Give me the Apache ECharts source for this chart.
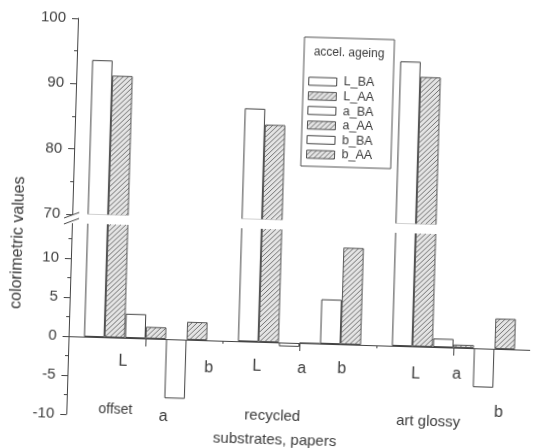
<!DOCTYPE html>
<html>
<head>
<meta charset="utf-8">
<script src="https://cdn.jsdelivr.net/npm/echarts@6/dist/echarts.min.js"></script>
<style>
  html, body { margin: 0; padding: 0; background: #fff; overflow: hidden; }
  #chart { width: 534px; height: 448px; transform: rotate(1.7deg); transform-origin: 267px 224px; }
</style>
</head>
<body>
<div id="chart"></div>
<script>
// Colorimetric values (L, a, b) before (BA) and after (AA) accelerated ageing
const substrates = ['offset', 'recycled', 'art glossy'];
const seriesNames = ['L_BA', 'L_AA', 'a_BA', 'a_AA', 'b_BA', 'b_AA'];
const L_BA = [93.7, 87.0, 94.9];
const L_AA = [91.4, 84.6, 92.6];
const a_BA = [3.1, -0.5, 1.1];
const a_AA = [1.5, 0.0, 0.4];
const b_BA = [-7.6, 5.7, -5.0];
const b_AA = [2.3, 12.4, 3.9];
const componentLabels = ['L', 'a', 'b'];

// broken value axis: upper and lower segments
const upperRange = [70, 100];
const upperStep = 10;
const lowerRange = [-10, 15];
const lowerStep = 5;

const values = [L_BA, L_AA, a_BA, a_AA, b_BA, b_AA];

const INK = '#444';
const TXT = '#3c3c3c';
const FONT = '"Liberation Sans", Arial, sans-serif';

function hatchCanvas() {
  const c = document.createElement('canvas');
  c.width = 5; c.height = 5;
  const g = c.getContext('2d');
  g.fillStyle = '#e4e4e4';
  g.fillRect(0, 0, 5, 5);
  g.strokeStyle = '#707070';
  g.lineWidth = 1;
  g.beginPath(); g.moveTo(-1, 6); g.lineTo(6, -1); g.stroke();
  g.beginPath(); g.moveTo(-1, 1); g.lineTo(1, -1); g.stroke();
  g.beginPath(); g.moveTo(4, 6); g.lineTo(6, 4); g.stroke();
  return c;
}
const hatch = { image: hatchCanvas(), repeat: 'repeat' };

function styleFor(name) {
  const aged = name.endsWith('_AA');
  return {
    color: aged ? hatch : '#ffffff',
    borderColor: aged ? '#555' : INK,
    borderWidth: 1
  };
}

const gridLeft = 72, gridWidth = 466;
const upperTop = 24, upperBottom = 220;
const lowerTop = 225, lowerBottom = 420;

const yAxisCommon = {
  axisLine: { show: true, lineStyle: { color: INK, width: 1 } },
  axisTick: { show: true, length: 6, lineStyle: { color: INK } },
  minorTick: { show: true, splitNumber: 2, length: 3, lineStyle: { color: INK } },
  splitLine: { show: false },
  axisLabel: { color: TXT, fontSize: 15, fontFamily: FONT, margin: 12 }
};

const series = [];
seriesNames.forEach((name, i) => {
  series.push({
    name, type: 'bar', xAxisIndex: 0, yAxisIndex: 0,
    barGap: '0%', barCategoryGap: '20%',
    itemStyle: styleFor(name),
    data: values[i].map(v => (v >= upperRange[0] ? v : '-'))
  });
  series.push({
    name, type: 'bar', xAxisIndex: 1, yAxisIndex: 1,
    barGap: '0%', barCategoryGap: '20%',
    itemStyle: styleFor(name),
    data: values[i].slice()
  });
});

// sub-labels under each group and the group names
const subLabelPos = [
  [[127, 366], [169, 420], [213, 370]],
  [[261, 367], [306, 368], [346, 367]],
  [[420, 370], [461, 369], [504, 406]]
];
const groupLabelPos = [[121, 414], [278, 416], [434, 417]];

const graphic = [
  // white band of the axis break
  { type: 'rect', z: 100, shape: { x: 73, y: 219.4, width: 470, height: 9.6 }, style: { fill: '#fff' } },
  { type: 'rect', z: 100, shape: { x: 62, y: 221, width: 11.5, height: 8 }, style: { fill: '#fff' } },
  { type: 'line', z: 101, shape: { x1: 64, y1: 224, x2: 79, y2: 218 }, style: { stroke: INK, lineWidth: 1 } },
  { type: 'line', z: 101, shape: { x1: 64, y1: 230, x2: 79, y2: 224 }, style: { stroke: INK, lineWidth: 1 } },
  // legend frame and title
  { type: 'rect', z: 100, shape: { x: 299, y: 36, width: 90, height: 129 }, style: { fill: 'none', stroke: '#555', lineWidth: 1 } },
  { type: 'text', z: 101, x: 344, y: 51, style: { text: 'accel. ageing', fontSize: 12, fontFamily: FONT, fill: TXT, align: 'center', verticalAlign: 'middle' } },
  // value axis title
  { type: 'text', z: 101, x: 19, y: 250, rotation: Math.PI / 2, style: { text: 'colorimetric values', fontSize: 16, fontFamily: FONT, fill: TXT, align: 'center', verticalAlign: 'middle' } }
];
subLabelPos.forEach(group => group.forEach((p, k) => {
  graphic.push({ type: 'text', z: 101, x: p[0], y: p[1], style: { text: componentLabels[k], fontSize: 16, fontFamily: FONT, fill: TXT, align: 'center', verticalAlign: 'middle' } });
}));
groupLabelPos.forEach((p, i) => {
  const isRecycled = substrates[i] === 'recycled';
  graphic.push({ type: 'text', z: 101, x: p[0], y: p[1], style: { text: substrates[i], fontSize: i === 0 ? 14 : 15, fontFamily: FONT, fill: TXT, align: 'center', verticalAlign: 'middle' } });
  if (isRecycled) {
    graphic.push({ type: 'text', z: 101, x: 281, y: 440, style: { text: 'substrates, papers', fontSize: 15, fontFamily: FONT, fill: TXT, align: 'center', verticalAlign: 'middle' } });
  }
});

const chart = echarts.init(document.getElementById('chart'), null, { renderer: 'canvas' });
chart.setOption({
  animation: false,
  backgroundColor: '#fff',
  textStyle: { fontFamily: FONT },
  grid: [
    { left: gridLeft, top: upperTop, width: gridWidth, height: upperBottom - upperTop },
    { left: gridLeft, top: lowerTop, width: gridWidth, height: lowerBottom - lowerTop },
    { left: gridLeft, top: lowerTop, width: gridWidth, height: lowerBottom - lowerTop }
  ],
  xAxis: [
    { type: 'category', gridIndex: 0, data: substrates, axisLine: { show: false }, axisTick: { show: false }, axisLabel: { show: false } },
    { type: 'category', gridIndex: 1, data: substrates,
      axisLine: { show: true, onZero: true, lineStyle: { color: INK, width: 1.2 } },
      axisTick: { show: true, alignWithLabel: true, length: 8, lineStyle: { color: INK } },
      axisLabel: { show: false } },
    { type: 'category', gridIndex: 2, data: substrates,
      axisLine: { show: true, onZero: true, lineStyle: { color: INK, width: 1.2 } },
      axisTick: { show: true, length: 3, lineStyle: { color: INK } },
      axisLabel: { show: false } }
  ],
  yAxis: [
    Object.assign({ type: 'value', gridIndex: 0, min: upperRange[0], max: upperRange[1], interval: upperStep }, yAxisCommon),
    Object.assign({ type: 'value', gridIndex: 1, min: lowerRange[0], max: lowerRange[1], interval: lowerStep }, yAxisCommon,
      { axisLabel: Object.assign({}, yAxisCommon.axisLabel, { showMaxLabel: false }) }),
    { type: 'value', gridIndex: 2, min: lowerRange[0], max: lowerRange[1], show: false }
  ],
  legend: {
    data: seriesNames,
    orient: 'vertical',
    left: 304, top: 73,
    padding: 0,
    itemWidth: 28, itemHeight: 8, itemGap: 0.6,
    icon: 'rect',
    itemStyle: { borderWidth: 1 },
    textStyle: { color: TXT, fontSize: 12.5, fontFamily: FONT, lineHeight: 14, padding: [0, 0, 0, 2] },
    selectedMode: false
  },
  graphic,
  series
});
</script>
</body>
</html>
